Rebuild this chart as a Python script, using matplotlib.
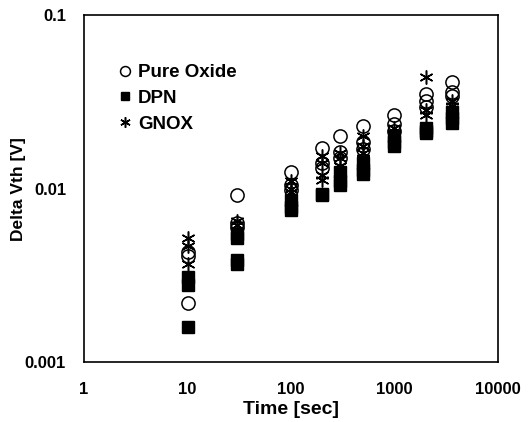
import matplotlib
matplotlib.use("Agg")
import matplotlib.pyplot as plt
from matplotlib.ticker import FixedLocator, FixedFormatter, NullLocator

plt.rcParams['font.family'] = ['Liberation Sans', 'DejaVu Sans']

# Pure Oxide (open circles)
ox_t = [10, 10, 10, 30, 30, 30, 100, 100, 100, 200, 200, 200, 300, 300, 300,
        500, 500, 500, 1000, 1000, 1000, 2000, 2000, 2000, 3600, 3600, 3600]
ox_v = [0.0043, 0.0041, 0.0022, 0.0092, 0.0063, 0.0060, 0.0125, 0.0105, 0.0098,
        0.0172, 0.0140, 0.0132, 0.0200, 0.0162, 0.0150, 0.0230, 0.0185, 0.0170,
        0.0265, 0.0235, 0.0215, 0.0350, 0.0320, 0.0295, 0.0410, 0.0360, 0.0340]

# DPN (filled squares)
dpn_t = [10, 10, 10, 30, 30, 30, 30, 100, 100, 100, 200, 200, 300, 300, 300,
         500, 500, 500, 1000, 1000, 1000, 2000, 2000, 2000, 3600, 3600, 3600]
dpn_v = [0.0031, 0.0028, 0.0016, 0.0055, 0.0052, 0.0039, 0.0037, 0.0086, 0.0078, 0.0075,
         0.0093, 0.0092, 0.0125, 0.0110, 0.0105, 0.0140, 0.0128, 0.0122,
         0.0200, 0.0185, 0.0175, 0.0225, 0.0215, 0.0210, 0.0275, 0.0255, 0.0240]

# GNOX (asterisks)
gn_t = [10, 10, 10, 30, 30, 30, 100, 100, 100, 200, 200, 200, 200, 300, 300, 300,
        500, 500, 500, 500, 1000, 1000, 1000, 2000, 2000, 2000, 3600, 3600, 3600]
gn_v = [0.0052, 0.0047, 0.0037, 0.0065, 0.0062, 0.0057, 0.0110, 0.0100, 0.0095,
        0.0155, 0.0140, 0.0120, 0.0112, 0.0160, 0.0150, 0.0135,
        0.0200, 0.0175, 0.0160, 0.0150, 0.0225, 0.0205, 0.0190,
        0.0440, 0.0285, 0.0265, 0.0320, 0.0300, 0.0285]

labels = ["Pure Oxide", "DPN", "GNOX"]
x_ticks = [1, 10, 100, 1000, 10000]
x_tick_labels = ["1", "10", "100", "1000", "10000"]
y_ticks = [0.001, 0.01, 0.1]
y_tick_labels = ["0.001", "0.01", "0.1"]

fig = plt.figure(figsize=(5.32, 4.22), dpi=100)
ax = fig.add_axes([0.158, 0.142, 0.778, 0.822])

ax.plot(ox_t, ox_v, linestyle='none', marker='o', markersize=9.5,
        markerfacecolor='none', markeredgecolor='black', markeredgewidth=1.1, label=labels[0])
ax.plot(dpn_t, dpn_v, linestyle='none', marker='s', markersize=8,
        markerfacecolor='black', markeredgecolor='black', label=labels[1])
ax.plot(gn_t, gn_v, linestyle='none', marker=(6, 2, 0), markersize=10,
        markeredgecolor='black', markeredgewidth=1.1, label=labels[2])

ax.set_xscale('log')
ax.set_yscale('log')
ax.set_xlim(1, 10000)
ax.set_ylim(0.001, 0.1)
ax.xaxis.set_major_locator(FixedLocator(x_ticks))
ax.xaxis.set_major_formatter(FixedFormatter(x_tick_labels))
ax.yaxis.set_major_locator(FixedLocator(y_ticks))
ax.yaxis.set_major_formatter(FixedFormatter(y_tick_labels))
ax.xaxis.set_minor_locator(NullLocator())
ax.yaxis.set_minor_locator(NullLocator())
ax.tick_params(axis='both', length=0, labelsize=12)
ax.tick_params(axis='x', pad=14)
ax.tick_params(axis='y', pad=13)
for lab in ax.get_xticklabels() + ax.get_yticklabels():
    lab.set_fontweight('bold')
for s in ax.spines.values():
    s.set_linewidth(1.2)

ax.set_xlabel("Time [sec]", fontsize=14, fontweight='bold', labelpad=3)
ax.set_ylabel("Delta Vth [V]", fontsize=12.5, fontweight='bold')
ax.yaxis.set_label_coords(-0.14, 0.5)

leg = ax.legend(loc='upper left', bbox_to_anchor=(0.06, 0.88), frameon=False,
                handletextpad=0.25, labelspacing=0.45, handlelength=0.9,
                markerscale=0.75, borderaxespad=0,
                prop={'weight': 'bold', 'size': 13.5})

fig.savefig("out.png", dpi=100)
